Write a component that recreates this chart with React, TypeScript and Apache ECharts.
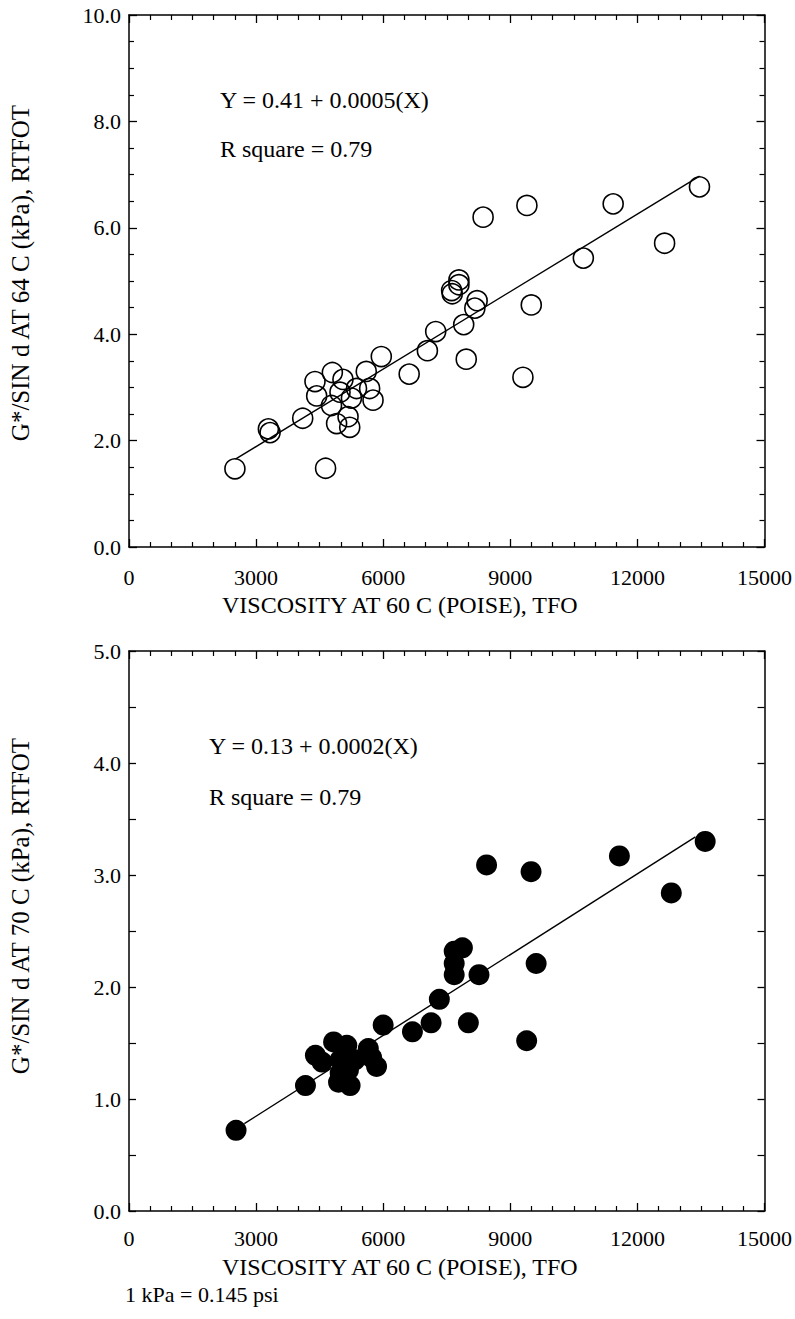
import React, { useEffect, useRef } from "react";
import * as echarts from "echarts";

// ---- data ----
const xTickValues = [0, 3000, 6000, 9000, 12000, 15000];
const topYTickValues = [0, 2, 4, 6, 8, 10];
const bottomYTickValues = [0, 1, 2, 3, 4, 5];

const topPoints: [number, number][] = [
  [2500, 1.47], [4640, 1.48], [3290, 2.22], [3330, 2.15], [4100, 2.42],
  [4390, 3.11], [4430, 2.84], [4800, 3.28], [5050, 3.15], [4980, 2.91],
  [4780, 2.66], [4900, 2.32], [5170, 2.45], [5210, 2.25], [5250, 2.8],
  [5370, 2.98], [5600, 3.3], [5680, 2.98], [5760, 2.76], [5955, 3.58],
  [6613, 3.25], [7043, 3.69], [7239, 4.05], [7630, 4.76], [7615, 4.82],
  [7787, 5.02], [7787, 4.93], [8217, 4.63], [8163, 4.49], [7900, 4.18],
  [7960, 3.53], [8358, 6.2], [9392, 6.42], [9495, 4.55], [9298, 3.19],
  [10724, 5.43], [11428, 6.45], [12642, 5.71], [13465, 6.77],
];
const topFit: [number, number][] = [[2512, 1.65], [13467, 6.97]];

const bottomPoints: [number, number][] = [
  [2527, 0.72], [4165, 1.12], [4400, 1.39], [4556, 1.33], [4829, 1.51],
  [5141, 1.48], [4985, 1.35], [4946, 1.15], [5219, 1.12], [5180, 1.26],
  [4985, 1.23], [5336, 1.35], [5648, 1.45], [5726, 1.37], [5843, 1.29],
  [5999, 1.66], [6690, 1.6], [7130, 1.68], [7325, 1.89], [7676, 2.32],
  [7676, 2.21], [7676, 2.11], [7870, 2.35], [8261, 2.11], [8010, 1.68],
  [8440, 3.09], [9490, 3.03], [9610, 2.21], [9386, 1.52], [11575, 3.17],
  [12800, 2.84], [13600, 3.3],
];
const bottomFit: [number, number][] = [[2722, 0.78], [13370, 3.34]];

const topEquation = "Y = 0.41 + 0.0005(X)";
const bottomEquation = "Y = 0.13 + 0.0002(X)";
const rSquareText = "R square = 0.79";
const xTitle = "VISCOSITY AT 60 C (POISE), TFO";
const topYTitle = "G*/SIN d AT 64 C (kPa), RTFOT";
const bottomYTitle = "G*/SIN d AT 70 C (kPa), RTFOT";
const unitNote = "1 kPa = 0.145 psi";

const FONT = "'Liberation Serif', 'Times New Roman', serif";
const BLACK = "#000";

function xAxes(gridIndex: number, labelMargin: number, nameGap: number) {
  const common = {
    gridIndex,
    type: "value",
    min: xTickValues[0],
    max: xTickValues[xTickValues.length - 1],
    interval: xTickValues[1] - xTickValues[0],
    splitLine: { show: false },
    axisLine: { show: true, onZero: false, lineStyle: { color: BLACK, width: 1.5 } },
    axisTick: { show: true, inside: true, length: 8, lineStyle: { color: BLACK, width: 1.3 } },
    minorTick: { show: true, splitNumber: 6, length: 5, lineStyle: { color: BLACK, width: 1.2 } },
  };
  return [
    {
      ...common,
      position: "bottom",
      axisLabel: {
        color: BLACK, fontFamily: FONT, fontSize: 22, margin: labelMargin,
        formatter: (v: number) => String(v),
      },
      name: xTitle,
      nameLocation: "middle",
      nameGap,
      nameTextStyle: { color: BLACK, fontFamily: FONT, fontSize: 24, padding: [0, 94, 0, 0] },
    },
    { ...common, position: "top", axisLabel: { show: false } },
  ];
}

function yAxes(
  gridIndex: number, ticks: number[], minorSplit: number, name: string,
  majorLen: number, minorLen: number, nameShift: number,
) {
  const common = {
    gridIndex,
    type: "value",
    min: ticks[0],
    max: ticks[ticks.length - 1],
    interval: ticks[1] - ticks[0],
    splitLine: { show: false },
    axisLine: { show: true, onZero: false, lineStyle: { color: BLACK, width: 1.5 } },
    axisTick: { show: true, inside: true, length: majorLen, lineStyle: { color: BLACK, width: 1.3 } },
    minorTick: { show: true, splitNumber: minorSplit, length: minorLen, lineStyle: { color: BLACK, width: 1.2 } },
  };
  return [
    {
      ...common,
      position: "left",
      axisLabel: {
        color: BLACK, fontFamily: FONT, fontSize: 22, margin: 8,
        formatter: (v: number) => v.toFixed(1),
      },
      name,
      nameLocation: "middle",
      nameGap: 96,
      nameTextStyle: { color: BLACK, fontFamily: FONT, fontSize: 25, padding: [0, 0, 0, nameShift] },
    },
    { ...common, position: "right", axisLabel: { show: false } },
  ];
}

function textEl(text: string, x: number, y: number, size = 24) {
  return {
    type: "text",
    left: x,
    top: y - size / 2 - 1,
    style: { text, fill: BLACK, font: `${size}px ${FONT}` },
  };
}

export default function App() {
  const ref = useRef<HTMLDivElement>(null);
  useEffect(() => {
    if (!ref.current) return;
    const chart = echarts.init(ref.current, undefined, { renderer: "svg" });
    const option = {
      animation: false,
      backgroundColor: "#fff",
      grid: [
        { left: 128, top: 15, width: 639, height: 532 },
        { left: 127, top: 651, width: 641, height: 560 },
      ],
      xAxis: [...xAxes(0, 19, 46), ...xAxes(1, 16, 44)],
      yAxis: [
        ...yAxes(0, topYTickValues, 4, topYTitle, 8, 5, 16),
        ...yAxes(1, bottomYTickValues, 2, bottomYTitle, 7, 7, 50),
      ],
      series: [
        {
          type: "line", xAxisIndex: 0, yAxisIndex: 0, data: topFit,
          showSymbol: false, symbol: "none", lineStyle: { color: BLACK, width: 1.4 }, z: 1,
        },
        {
          type: "scatter", xAxisIndex: 0, yAxisIndex: 0, data: topPoints,
          symbol: "circle", symbolSize: 20,
          itemStyle: { color: "rgba(0,0,0,0)", borderColor: BLACK, borderWidth: 1.6, opacity: 1 }, z: 2,
        },
        {
          type: "line", xAxisIndex: 2, yAxisIndex: 2, data: bottomFit,
          showSymbol: false, symbol: "none", lineStyle: { color: BLACK, width: 1.4 }, z: 1,
        },
        {
          type: "scatter", xAxisIndex: 2, yAxisIndex: 2, data: bottomPoints,
          symbol: "circle", symbolSize: 21,
          itemStyle: { color: BLACK, opacity: 1 }, z: 2,
        },
      ],
      graphic: [
        textEl(topEquation, 220, 101),
        textEl(rSquareText, 220, 150),
        textEl(bottomEquation, 209, 747),
        textEl(rSquareText, 209, 798),
        textEl(unitNote, 125, 1295, 22),
      ],
    };
    chart.setOption(option as any);
    return () => chart.dispose();
  }, []);
  return (
    <div
      ref={ref}
      style={{ position: "absolute", left: 0, top: 0, width: 795, height: 1319, background: "#fff" }}
    />
  );
}
